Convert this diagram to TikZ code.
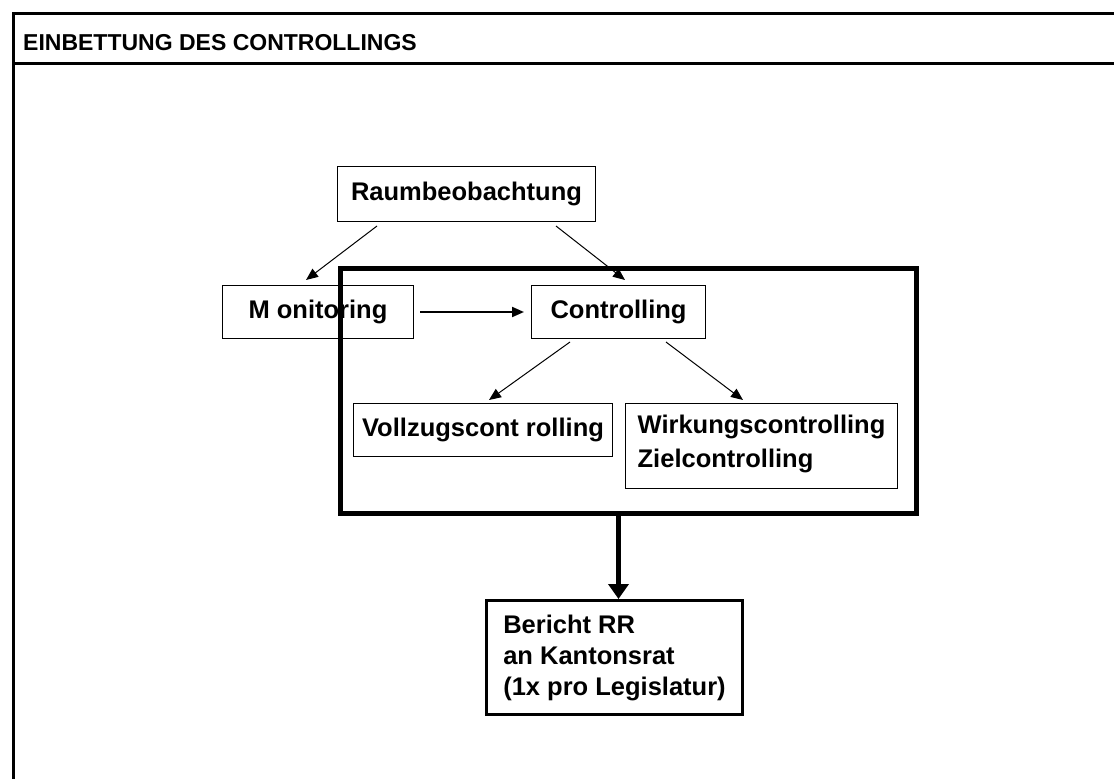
\documentclass[tikz,border=0pt]{standalone}
\usepackage{fontspec}
\setmainfont{Liberation Sans}
\usetikzlibrary{arrows.meta}

\begin{document}
\begin{tikzpicture}[x=1pt,y=-1pt,
        box/.style={draw,line width=1pt,inner sep=0pt,align=left,font=\bfseries\fontsize{25.5}{31}\selectfont},
        arr/.style={-{Triangle[length=12pt,width=10pt]},line width=1pt}]
    \useasboundingbox (0,0) rectangle (1114,779);
    % frame and title
    \draw[line width=3pt] (1130,13) -- (13,13) -- (13,800);
    \draw[line width=3pt] (13,63) -- (1130,63);
    \node[anchor=base west,inner sep=0pt,font=\bfseries\fontsize{23}{26}\selectfont] (title) at (23,50) {EINBETTUNG DES CONTROLLINGS};
    % boxes
    \node[box,anchor=north west,minimum width=258pt,minimum height=55pt] (raum) at (337,166) {Raumbeobachtung};
    \node[box,anchor=north west,minimum width=191pt,minimum height=53pt] (mon) at (222,285) {M onitoring};
    \node[box,anchor=north west,minimum width=174pt,minimum height=53pt] (ctrl) at (531,285) {Controlling};
    \node[box,anchor=north west,minimum width=259pt,minimum height=53pt] (voll) at (353,403) {Vollzugscont rolling};
    \node[box,anchor=north west,minimum width=272pt,minimum height=85pt] (wirk) at (625,403) {Wirkungscontrolling\\[3pt]Zielcontrolling\\[-22pt]\mbox{}};
    \node[box,line width=3pt,anchor=north west,minimum width=256pt,minimum height=114pt] (ber) at (485,599) {Bericht RR\\an Kantonsrat\\(1x pro Legislatur)};
    \node[draw,line width=5pt,inner sep=0pt,anchor=north west,minimum width=576pt,minimum height=245pt] (ctrlbox) at (338,266) {};
    % arrows
    \draw[arr] ([xshift=40pt,yshift=-4pt]raum.south west) -- ([xshift=84pt,yshift=5pt]mon.north west);
    \draw[arr] ([xshift=-40pt,yshift=-4pt]raum.south east) -- ([xshift=94pt,yshift=5pt]ctrl.north west);
    \draw[arr,line width=2pt] ([xshift=6pt]mon.east) -- ([xshift=-7pt]ctrl.west);
    \draw[arr] ([xshift=39pt,yshift=-3pt]ctrl.south west) -- ([xshift=136pt,yshift=3pt]voll.north west);
    \draw[arr] ([xshift=135pt,yshift=-3pt]ctrl.south west) -- ([xshift=118pt,yshift=3pt]wirk.north west);
    \draw[-{Triangle[length=15pt,width=20pt]},line width=5pt] ([xshift=4pt]ber.north |- ctrlbox.south) -- ([xshift=4pt]ber.north);
\end{tikzpicture}
\end{document}
